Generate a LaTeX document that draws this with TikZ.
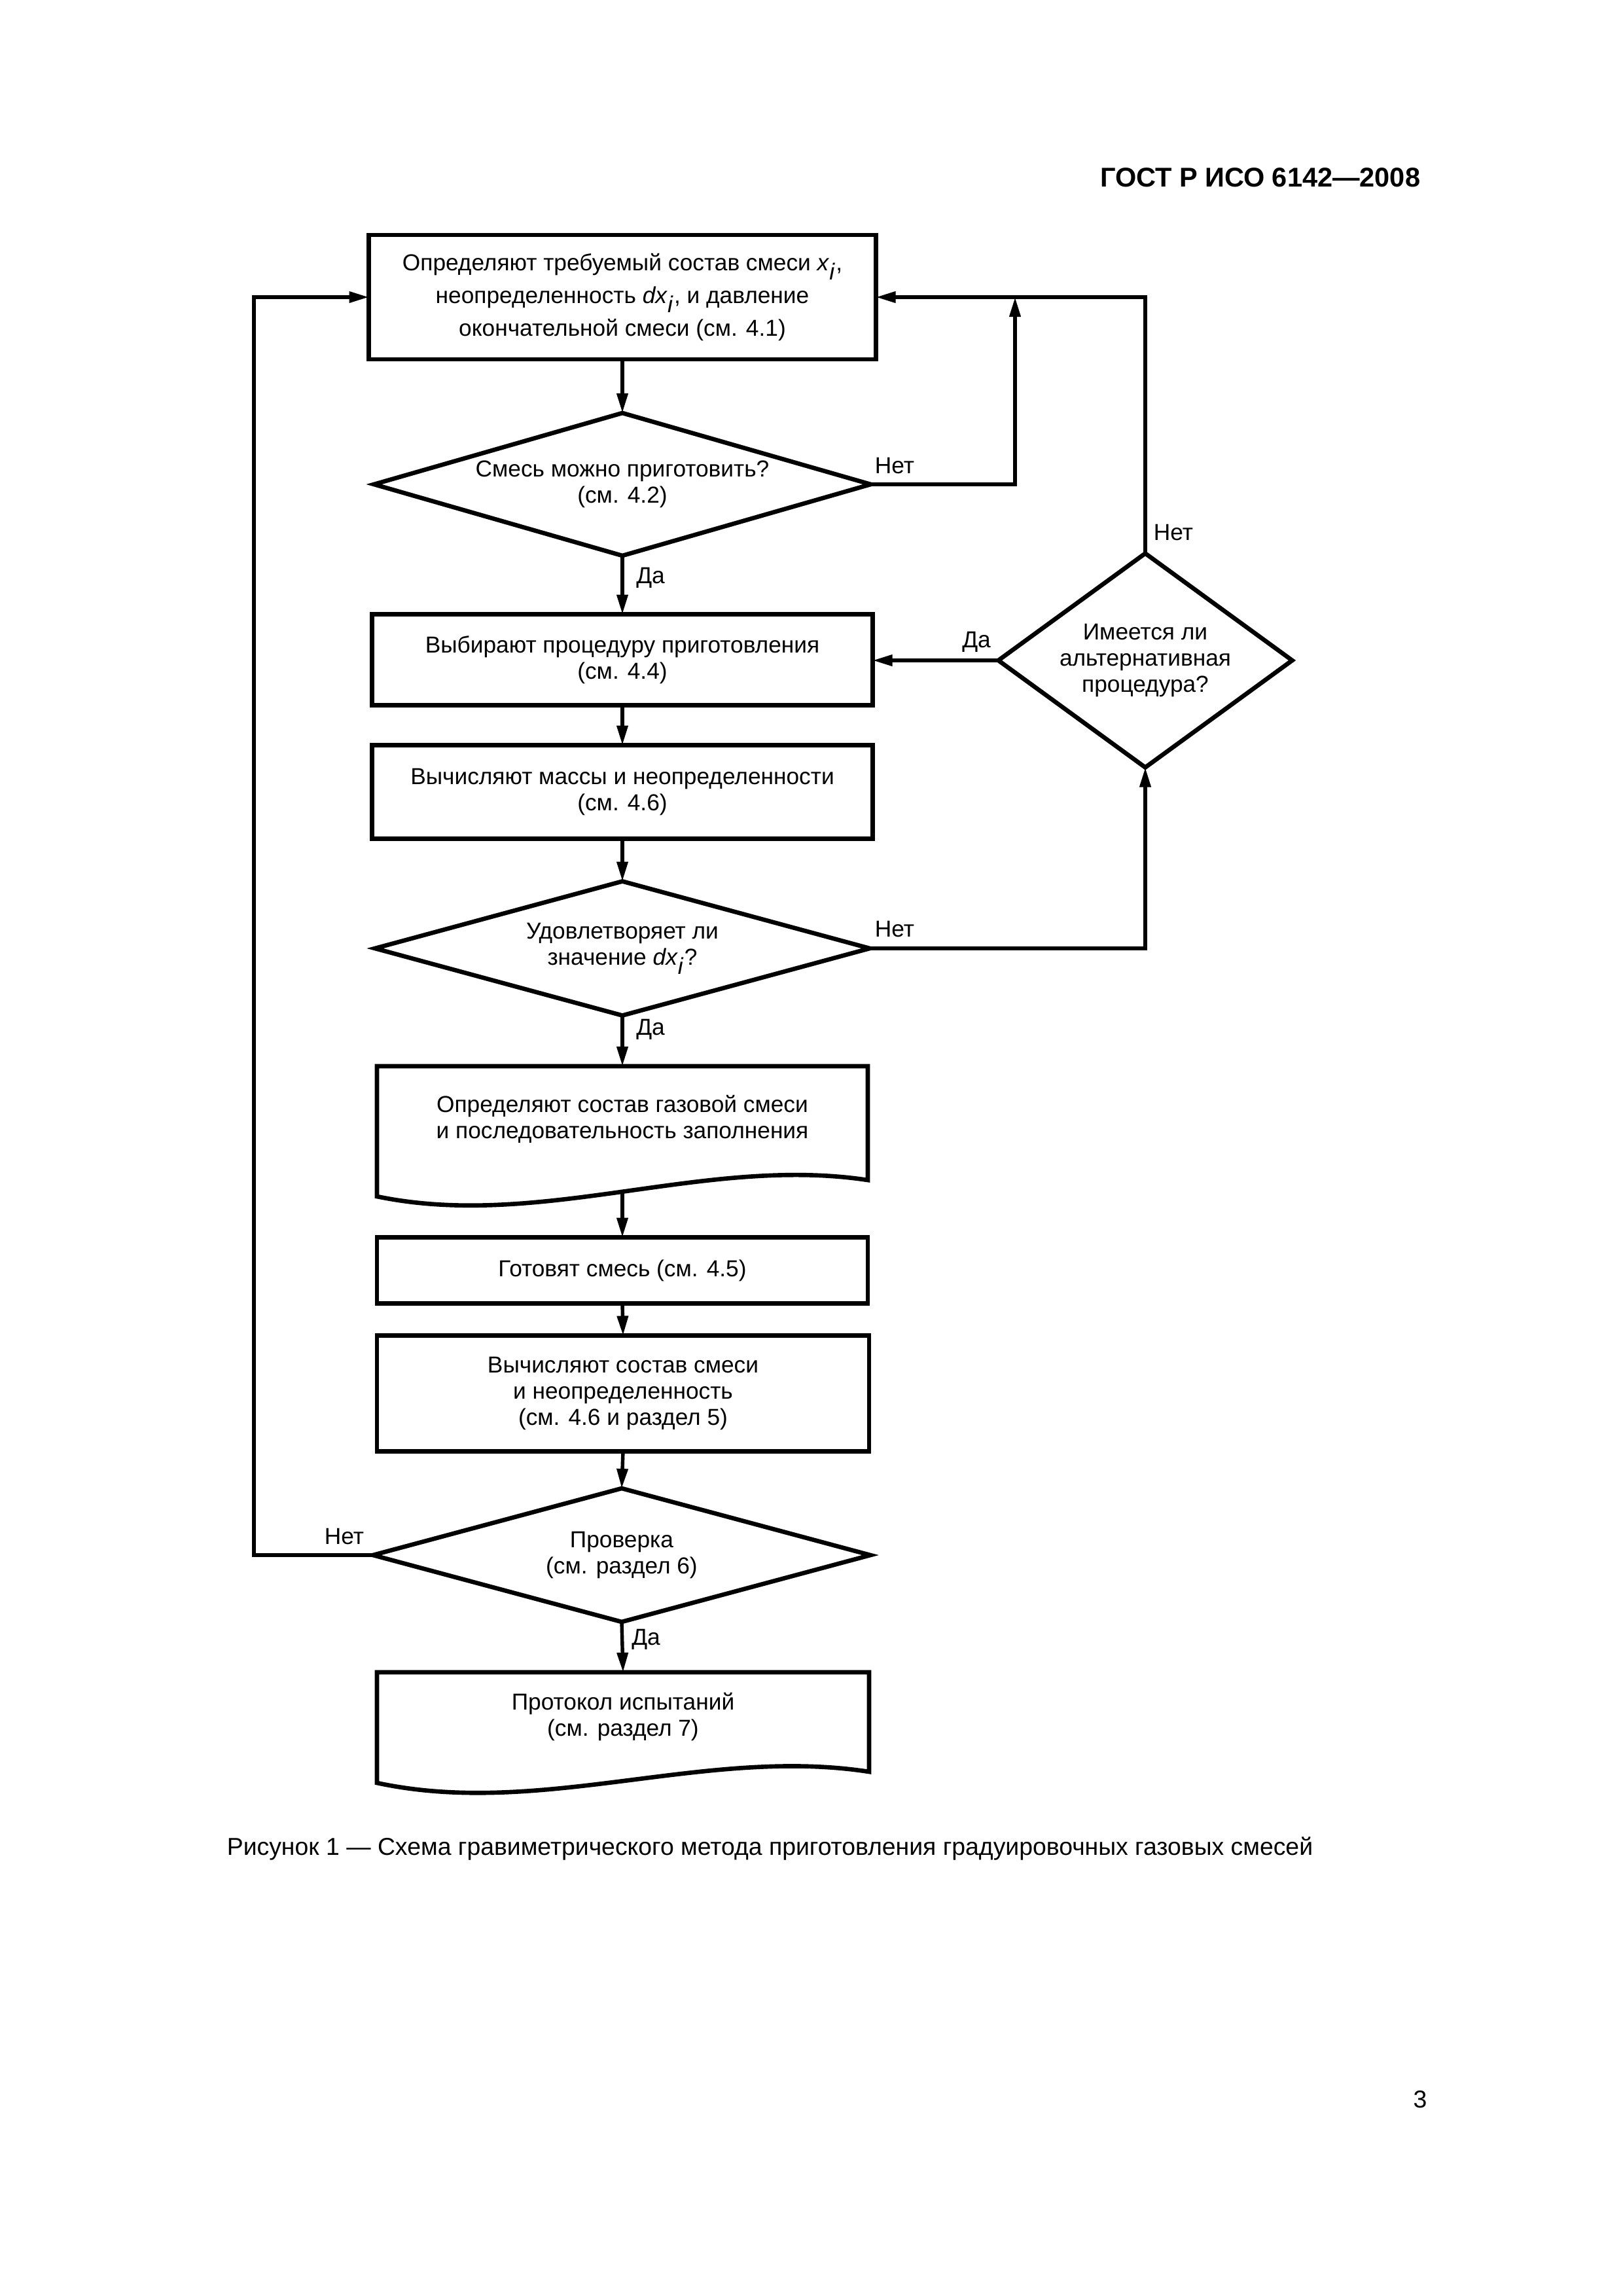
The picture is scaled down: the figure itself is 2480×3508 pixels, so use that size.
\documentclass[tikz,border=0pt]{standalone}
\usepackage{fontspec}
\setmainfont{Liberation Sans}
\usetikzlibrary{arrows.meta,calc}
\newlength\pxu
\setlength\pxu{0.084667mm}
\begin{document}
\begin{tikzpicture}[x=0.084667mm, y=-0.084667mm,
  border/.style={draw, line width=1.6pt},
  box/.style={border, rectangle, inner sep=0pt, outer sep=0pt, align=center, font=\fontsize{8.5pt}{9.6pt}\selectfont},
  txt/.style={inner sep=0pt, outer sep=0pt, align=center, font=\fontsize{8.5pt}{9.6pt}\selectfont},
  conn/.style={line width=1.3pt, -{Triangle[length=2.54mm, width=1.4mm]}},
  lbl/.style={inner sep=0pt, font=\fontsize{8.5pt}{9.6pt}\selectfont},
  line join=miter]
\fill[white] (0,0) rectangle (2480,3508);
\useasboundingbox (0,0) rectangle (2480,3508);

\node[anchor=base east, inner sep=0pt, font=\bfseries\fontsize{10pt}{12pt}\selectfont] (hdr) at (2171,285) {ГОСТ Р ИСО 6142—2008};

% main column
\node[box, minimum width=775\pxu, minimum height=190\pxu, font=\fontsize{8.5pt}{12pt}\selectfont] (b1) at (951,454)
  {Определяют требуемый состав смеси \textit{x}$_{\textit{i}}$,\\неопределенность \textit{dx}$_{\textit{i}}$, и давление\\окончательной смеси (см. 4.1)};

\node[txt, minimum width=759\pxu, minimum height=218\pxu] (d1) at (951,740) {Смесь можно приготовить?\\(см. 4.2)};
\draw[border] (d1.west) -- (d1.north) -- (d1.east) -- (d1.south) -- cycle;

\node[box, minimum width=765\pxu, minimum height=139\pxu] (b2) at (951,1008) {Выбирают процедуру приготовления\\(см. 4.4)};

\node[box, minimum width=765\pxu, minimum height=143\pxu] (b3) at (951,1210) {Вычисляют массы и неопределенности\\(см. 4.6)};

\node[txt, minimum width=756\pxu, minimum height=205\pxu] (d2) at (951,1449) {Удовлетворяет ли\\значение \textit{dx}$_{\textit{i}}$?};
\draw[border] (d2.west) -- (d2.north) -- (d2.east) -- (d2.south) -- cycle;

\node[txt, minimum width=750\pxu, minimum height=192\pxu] (b4) at (951,1725) {};
\node[txt] (t4) at (951,1710) {Определяют состав газовой смеси\\и последовательность заполнения};
\draw[border] ($(b4.south west)+(0,7)$) -- (b4.north west) -- (b4.north east) -- ($(b4.south east)+(0,-18)$)
  .. controls ($(b4.south west)+(500,-56)$) and ($(b4.south west)+(250,59)$) .. ($(b4.south west)+(0,7)$) -- cycle;

\node[box, minimum width=750\pxu, minimum height=101\pxu] (b5) at (951,1941) {Готовят смесь (см. 4.5)};

\node[box, minimum width=752\pxu, minimum height=177\pxu] (b6) at (952,2129) {Вычисляют состав смеси\\и неопределенность\\(см. 4.6 и раздел 5)};

\node[txt, minimum width=760\pxu, minimum height=204\pxu] (d3) at (950,2376) {Проверка\\(см. раздел 6)};
\draw[border] (d3.west) -- (d3.north) -- (d3.east) -- (d3.south) -- cycle;

\node[txt, minimum width=752\pxu, minimum height=166\pxu] (b7) at (952,2638) {};
\node[txt] (t7) at (952,2623) {Протокол испытаний\\(см. раздел 7)};
\draw[border] ($(b7.south west)+(0,3)$) -- (b7.north west) -- (b7.north east) -- ($(b7.south east)+(0,-14)$)
  .. controls ($(b7.south west)+(501,-53)$) and ($(b7.south west)+(251,57)$) .. ($(b7.south west)+(0,3)$) -- cycle;

% alternative decision
\node[txt, minimum width=449\pxu, minimum height=327\pxu] (alt) at (1750,1009) {Имеется ли\\альтернативная\\процедура?};
\draw[border] (alt.west) -- (alt.north) -- (alt.east) -- (alt.south) -- cycle;

% connectors
\draw[conn] (b1.south) -- (d1.north);
\draw[conn] (d1.south) -- (b2.north);
\draw[conn] (b2.south) -- (b3.north);
\draw[conn] (b3.south) -- (d2.north);
\draw[conn] (d2.south) -- (b4.north);
\draw[conn] (b4.south) -- (b5.north);
\draw[conn] (b5.south) -- (b6.north);
\draw[conn] (b6.south) -- (d3.north);
\draw[conn] (d3.south) -- (b7.north);

\coordinate (j1) at (1551,454);
\draw[conn] (d1.east) -| (j1);
\draw[conn] (alt.north) |- (b1.east);
\draw[conn] (alt.west) -- (alt.west -| b2.east);
\draw[conn] (d2.east) -| (alt.south);
\draw[conn] (d3.west) -- ++(-182,0) |- (b1.west);

% labels
\node[lbl] (n1) at (1367,712) {Нет};
\node[lbl] (y1) at (994,883) {Да};
\node[lbl] (n2) at (1793,814) {Нет};
\node[lbl] (y2) at (1492,981) {Да};
\node[lbl] (n3) at (1367,1420) {Нет};
\node[lbl] (y3) at (994,1573) {Да};
\node[lbl] (n4) at (526,2348) {Нет};
\node[lbl] (y4) at (987,2505) {Да};

\node[anchor=base west, inner sep=0pt, font=\fontsize{9pt}{11pt}\selectfont] (cap) at (346,2834)
  {Рисунок 1 — Схема гравиметрического метода приготовления градуировочных газовых смесей};
\node[anchor=base, inner sep=0pt, font=\fontsize{9pt}{11pt}\selectfont] (pg) at (2170,3220) {3};
\end{tikzpicture}
\end{document}
